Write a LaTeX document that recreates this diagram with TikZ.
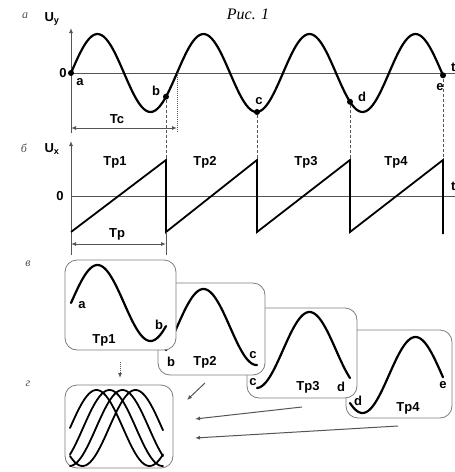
\documentclass[tikz,border=0pt]{standalone}
\usepackage{fontspec}
\setmainfont{Liberation Sans}
\newfontfamily\capfont{Liberation Serif}
\usetikzlibrary{arrows.meta}
\definecolor{axisGray}{RGB}{85, 85, 85}
\definecolor{boxGray}{RGB}{125, 125, 125}
\definecolor{tagGray}{RGB}{80, 80, 80}

\begin{document}
\begin{tikzpicture}[x=1pt, y=-1pt,
    wave/.style={line width=2.2pt, line join=round, line cap=round},
    axisline/.style={axisGray, line width=1pt},
    guide/.style={axisGray, line width=0.8pt, densely dashed},
    panel/.style={boxGray, line width=0.8pt, rounded corners=12pt, fill=white},
    lbl/.style={font=\bfseries\fontsize{13}{13}\selectfont, inner sep=0pt},
    tag/.style={tagGray, font=\capfont\itshape\fontsize{12}{12}\selectfont, inner sep=0pt},
    headarrow/.style={-{Latex[length=5pt, width=4pt]}},
    spot/.style={circle, fill, inner sep=0pt, minimum size=6pt}]
  \useasboundingbox (0,0) rectangle (455,472);

  \node (title) at (248,14) {\capfont\itshape\fontsize{16}{16}\selectfont Рис. 1};

  % a: input signal U_y
  \node[tag] (ta) at (25,16) {а};
  \node[lbl] (uy) at (52,19) {U\textsubscript{y}};
  \draw[axisline, headarrow] (71,133) -- (71,28);
  \draw[axisline, headarrow] (71,73) -- (460,73);
  \node[lbl, anchor=west] (ty) at (451,67) {t};
  \node[lbl] (z1) at (63,73) {0};
  \draw[wave] plot[domain=71:443, samples=160, smooth] (\x, {73-39*sin(3.3962*(\x-71))});

  % points at the sweep boundaries
  \node[spot] (pa) at (71,73) {};
  \node[spot] (pb) at (166,{73-39*sin(3.3962*95)}) {};
  \node[spot] (pc) at (257,{73-39*sin(3.3962*186)}) {};
  \node[spot] (pd) at (350,{73-39*sin(3.3962*279)}) {};
  \node[spot] (pe) at (443,{73-39*sin(3.3962*372)}) {};
  \node[lbl] (la) at (80,82) {a};
  \node[lbl] (lb) at (156,91) {b};
  \node[lbl] (lc) at (259,101) {c};
  \node[lbl] (ld) at (362,97) {d};
  \node[lbl] (le) at (440,87) {e};

  % signal period
  \draw[axisline, densely dotted] (177,73) -- (177,133);
  \draw[axisline, {Latex[length=5pt, width=4pt]}-{Latex[length=5pt, width=4pt]}] (71,128) -- (177,128);
  \node[lbl] (tc) at (117,119) {Tc};
  \foreach \p/\px in {pb/166, pc/257, pd/350, pe/443}
    \draw[guide] (\p) -- (\px,160);

  % b: sweep voltage U_x
  \node[tag] (tb) at (24,148) {б};
  \node[lbl] (ux) at (52,149) {U\textsubscript{x}};
  \draw[axisline, headarrow] (71,255) -- (71,141);
  \draw[axisline, headarrow] (71,196) -- (460,196);
  \node[lbl, anchor=west] (tx) at (451,186) {t};
  \node[lbl] (z2) at (60,196) {0};
  \draw[line width=1.8pt] (71,232) -- (166,160) -- (166,232) -- (257,160) -- (257,232)
    -- (350,160) -- (350,232) -- (443,160) -- (443,234);
  \node[lbl] (tp1) at (115,162) {Tp1};
  \node[lbl] (tp2) at (205,162) {Tp2};
  \node[lbl] (tp3) at (306,162) {Tp3};
  \node[lbl] (tp4) at (396,162) {Tp4};
  \draw[axisline] (166,232) -- (166,255);
  \draw[axisline, {Latex[length=5pt, width=4pt]}-{Latex[length=5pt, width=4pt]}] (71,244) -- (166,244);
  \node[lbl] (tp) at (117,234) {Tp};

  % v: screen image in each sweep
  \node[tag] (tv) at (28,264) {в};
  \draw[panel] (346,330) rectangle (452,418);
  \draw[wave] plot[domain=350:443, samples=60, smooth] (\x, {375-38*sin(3.3962*(\x-71))});
  \node[lbl] (d4) at (358,401) {d};
  \node[lbl] (s4) at (408,408) {Tp4};
  \node[lbl] (e4) at (443,385) {e};

  \draw[panel] (247,308) rectangle (357,398);
  \draw[wave] plot[domain=257:350, samples=60, smooth] (\x, {350-38*sin(3.3962*(\x-71))});
  \node[lbl] (c3) at (253,382) {c};
  \node[lbl] (s3) at (308,387) {Tp3};
  \node[lbl] (d3) at (341,387) {d};

  \draw[panel] (158,283) rectangle (265,375);
  \draw[wave] plot[domain=166:257, samples=60, smooth] (\x, {327-38*sin(3.3962*(\x-71))});
  \node[lbl] (b2) at (171,362) {b};
  \node[lbl] (s2) at (205,362) {Tp2};
  \node[lbl] (c2) at (253,355) {c};

  \draw[panel] (65,260) rectangle (176,350);
  \draw[wave] plot[domain=71:166, samples=60, smooth] (\x, {303-38*sin(3.3962*(\x-71))});
  \node[lbl] (a1) at (82,305) {a};
  \node[lbl] (b1) at (159,325) {b};
  \node[lbl] (s1) at (104,340) {Tp1};

  % g: all sweeps on the screen together
  \node[tag] (tg) at (28,384) {г};
  \draw[panel] (65,385) rectangle (173,468);
  \foreach \k in {0,...,3}
    \draw[wave, line width=1.8pt] plot[domain=70:163, samples=60, smooth] (\x, {428-38*sin(3.3962*(\x-70+93*\k))});

  \coordinate (from1) at (120,362);
  \coordinate (to1) at (120,378);
  \coordinate (from2) at (205,383);
  \coordinate (to2) at (187,400);
  \coordinate (from3) at (302,407);
  \coordinate (to3) at (195,419);
  \coordinate (from4) at (398,426);
  \coordinate (to4) at (195,438);
  \draw[axisline, densely dotted, headarrow] (from1) -- (to1);
  \foreach \n in {2,3,4}
    \draw[axisline, headarrow] (from\n) -- (to\n);
\end{tikzpicture}
\end{document}
